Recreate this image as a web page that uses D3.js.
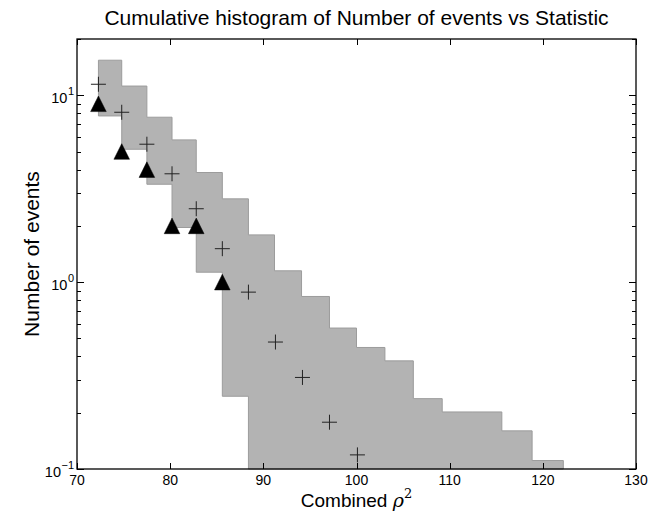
<!DOCTYPE html>
<html>
<head>
<meta charset="utf-8">
<script src="https://cdn.jsdelivr.net/npm/d3@7"></script>
<style>
  body { margin: 0; background: white; }
  text { font-family: "Liberation Sans", Arial, Helvetica, sans-serif; fill: black; }
</style>
</head>
<body>
<div id="chart1"></div>
<script>
// values

// step edges of the shaded band (combined rho^2)
var bandEdges = [72.3, 74.8, 77.5, 80.2, 82.8, 85.6, 88.4, 91.2, 94.1, 97.1, 100.0, 103.05, 106.1, 109.2, 112.4, 115.6, 118.85, 122.2];
// upper and lower limit of each step (0 = down to the axis)
var bandUpper = [15.4, 11.2, 7.63, 5.77, 3.86, 2.79, 1.79, 1.15, 0.838, 0.568, 0.447, 0.379, 0.238, 0.202, 0.202, 0.160, 0.111];
var bandLower = [7.75, 5.14, 3.34, 1.96, 1.13, 0.245, 0, 0, 0, 0, 0, 0, 0, 0, 0, 0, 0];

// expected background (crosses)
var expectedX = [72.3, 74.8, 77.5, 80.2, 82.8, 85.6, 88.4, 91.3, 94.2, 97.1, 100.1];
var expectedN = [11.45, 8.11, 5.47, 3.80, 2.47, 1.51, 0.884, 0.478, 0.309, 0.178, 0.119];

// observed events (triangles)
var eventX = [72.3, 74.8, 77.5, 80.2, 82.8, 85.6];
var eventN = [9, 5, 4, 2, 2, 1];

var xTicks = [70, 80, 90, 100, 110, 120, 130];
var yTicks = [0.1, 1, 10];
var yTickExp = ["-1", "0", "1"];

//GLOBALS
margin = {top: 39, right: 20, bottom: 43, left: 77};
width = 656 - margin.left - margin.right;
height = 512 - margin.top - margin.bottom;

function start() {
  svg = d3.select("#chart1")
      .append("svg")
      .attr("width", 656)
      .attr("height", 512);

  x = d3.scaleLinear().domain([70, 130]).range([0, width]);
  y = d3.scaleLog().domain([0.1, 20]).range([height, 0]);

  plot = svg.append("g")
      .attr("transform", "translate(" + margin.left + "," + margin.top + ")");

  // shaded band, drawn as one step polygon
  var pts = [];
  for (var i = 0; i < bandUpper.length; i++) {
    pts.push([x(bandEdges[i]), y(bandUpper[i])]);
    pts.push([x(bandEdges[i + 1]), y(bandUpper[i])]);
  }
  for (var i = bandLower.length - 1; i >= 0; i--) {
    var lo = Math.max(bandLower[i], 0.1);
    pts.push([x(bandEdges[i + 1]), y(lo)]);
    pts.push([x(bandEdges[i]), y(lo)]);
  }
  plot.append("path")
      .attr("d", d3.line()(pts) + "Z")
      .attr("fill", "#b3b3b3")
      .attr("stroke", "#9c9c9c")
      .attr("stroke-width", 1);

  // crosses
  var cs = 7.5;
  plot.selectAll(".cross")
      .data(d3.range(expectedX.length))
      .join("path")
      .attr("class", "cross")
      .attr("d", function(i) {
        var cx = x(expectedX[i]), cy = y(expectedN[i]);
        return "M" + (cx - cs) + "," + cy + "H" + (cx + cs) + "M" + cx + "," + (cy - cs) + "V" + (cy + cs);
      })
      .attr("stroke", "#222")
      .attr("stroke-width", 1)
      .attr("fill", "none");

  // triangles
  var tw = 7.8;
  plot.selectAll(".tri")
      .data(d3.range(eventX.length))
      .join("path")
      .attr("class", "tri")
      .attr("d", function(i) {
        var cx = x(eventX[i]), cy = y(eventN[i]);
        return "M" + cx + "," + (cy - tw) + "L" + (cx + tw) + "," + (cy + tw) + "L" + (cx - tw) + "," + (cy + tw) + "Z";
      })
      .attr("fill", "black")
      .attr("stroke", "black")
      .attr("stroke-width", 0.5);

  // ticks, inside, on all four sides
  var ticks = plot.append("g").attr("stroke", "black").attr("stroke-width", 1);
  xTicks.forEach(function(t) {
    var px = Math.round(x(t)) + 0.5;
    ticks.append("line").attr("x1", px).attr("x2", px).attr("y1", height).attr("y2", height - 6);
    ticks.append("line").attr("x1", px).attr("x2", px).attr("y1", 0).attr("y2", 6);
  });
  var minor = [];
  [0.1, 1, 10].forEach(function(d) {
    for (var k = 2; k <= 9; k++) if (d * k <= 20) minor.push(d * k);
  });
  yTicks.forEach(function(t) {
    var py = Math.round(y(t)) + 0.5;
    ticks.append("line").attr("x1", 0).attr("x2", 7).attr("y1", py).attr("y2", py);
    ticks.append("line").attr("x1", width).attr("x2", width - 7).attr("y1", py).attr("y2", py);
  });
  minor.forEach(function(t) {
    var py = Math.round(y(t)) + 0.5;
    ticks.append("line").attr("x1", 0).attr("x2", 4).attr("y1", py).attr("y2", py);
    ticks.append("line").attr("x1", width).attr("x2", width - 4).attr("y1", py).attr("y2", py);
  });

  // frame
  plot.append("rect")
      .attr("width", width)
      .attr("height", height)
      .attr("fill", "none")
      .attr("stroke", "black")
      .attr("stroke-width", 1.3);

  // x tick labels
  plot.selectAll(".xlab")
      .data(xTicks)
      .join("text")
      .attr("class", "xlab")
      .attr("x", function(d) { return x(d); })
      .attr("y", height + 16)
      .attr("text-anchor", "middle")
      .attr("font-size", "14px")
      .text(function(d) { return d; });

  // y tick labels 10^n
  yTicks.forEach(function(t, i) {
    var lab = plot.append("text")
        .attr("x", -3)
        .attr("y", y(t) + 8)
        .attr("text-anchor", "end")
        .attr("font-size", "14.5px");
    lab.append("tspan").text("10");
    lab.append("tspan")
        .attr("dy", -8)
        .attr("dx", 0.5)
        .attr("font-size", "11px")
        .text(yTickExp[i].replace("-", "\u2212"));
  });

  // title and axis labels
  svg.append("text")
      .attr("x", margin.left + width / 2)
      .attr("y", 25)
      .attr("text-anchor", "middle")
      .attr("font-size", "21px")
      .text("Cumulative histogram of Number of events vs Statistic");

  var xl = svg.append("text")
      .attr("x", margin.left + width / 2)
      .attr("y", 507)
      .attr("text-anchor", "middle")
      .attr("font-size", "19px");
  xl.append("tspan").text("Combined ");
  xl.append("tspan").attr("font-style", "italic").attr("font-family", "DejaVu Serif, serif").text("\u03C1");
  xl.append("tspan").attr("dy", -9).attr("font-size", "13px").attr("font-family", "DejaVu Serif, serif").text("2");

  svg.append("text")
      .attr("transform", "translate(39," + (margin.top + height / 2) + ") rotate(-90)")
      .attr("text-anchor", "middle")
      .attr("font-size", "21px")
      .text("Number of events");
}

function init() {
  start();
}

window.onload = init;
</script>
</body>
</html>
